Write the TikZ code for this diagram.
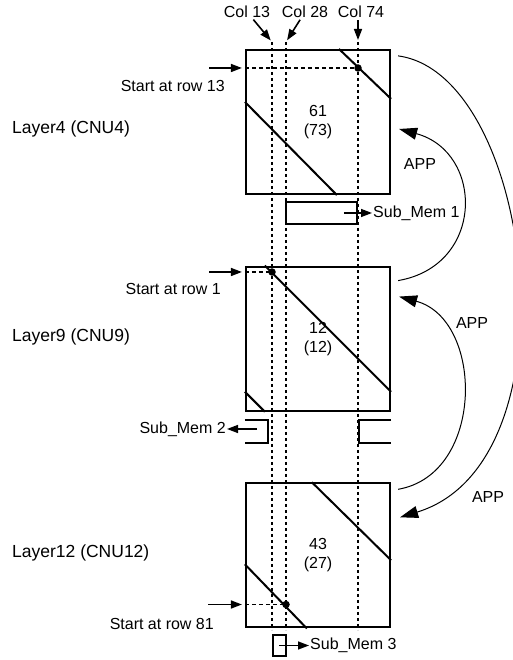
\documentclass[tikz,border=0pt]{standalone}
\usepackage{fontspec}
\setmainfont{Liberation Sans}
\usetikzlibrary{arrows.meta,positioning,calc}

\begin{document}
\begin{tikzpicture}[
  x=1pt, y=1pt,
  node distance=70.5pt and 20pt,
  every node/.style={font=\fontsize{16}{19}\selectfont, inner sep=0pt},
  cnubox/.style={draw, line width=2.2pt, minimum size=144pt, align=center},
  membox/.style={draw, line width=1.8pt},
  colline/.style={line width=1.8pt, dash pattern=on 3.5pt off 2.5pt},
  rowline/.style={line width=1.5pt, dash pattern=on 4pt off 3pt},
  diag/.style={line width=2pt},
  edge/.style={-{Triangle[length=11pt,width=8pt]}, line width=1.6pt},
  app/.style={-{Triangle[length=18pt,width=12pt]}, line width=1pt},
  layer/.style={font=\fontsize{17.5}{20}\selectfont, anchor=west},
  hitdot/.style={circle, fill, minimum size=7.5pt}
]
\useasboundingbox (0,0) rectangle (512,660);

\node[cnubox] (cnu4) at (318,538) {61\\(73)};
\node[cnubox, below=of cnu4] (cnu9) {12\\(12)};
\node[cnubox, below=of cnu9] (cnu12) {43\\(27)};

\draw[diag] ($(cnu4.north west)+(94,0)$) -- ($(cnu4.north east)+(0,-50)$);
\draw[diag] ($(cnu4.north west)+(0,-53)$) -- ($(cnu4.south west)+(92,0)$);
\draw[diag] ($(cnu9.north west)+(20,0)$) -- ($(cnu9.south east)+(0,20)$);
\draw[diag] ($(cnu9.south west)+(0,20)$) -- ($(cnu9.south west)+(20,0)$);
\draw[diag] ($(cnu12.north west)+(67,0)$) -- ($(cnu12.north east)+(0,-78)$);
\draw[diag] ($(cnu12.north west)+(0,-82)$) -- ($(cnu12.south west)+(62,0)$);

\coordinate (c13) at (272,618);
\coordinate (c28) at (286,618);
\coordinate (c74) at (358,618);
\draw[colline] (c13) -- (c13 |- 0,30);
\draw[colline] (c28) -- (c28 |- 0,30);
\draw[colline] (c74) -- (c74 |- 0,30);

\node (col13) at (247,648) {Col 13};
\node (col28) at (305,648) {Col 28};
\node (col74) at (361,648) {Col 74};
\draw[edge, shorten <=2pt, shorten >=2pt] (col13) -- (c13);
\draw[edge, shorten <=2pt, shorten >=2pt] (col28) -- (c28);
\draw[edge, shorten >=2pt] ($(col74.south -| c74)+(0,-2)$) -- (c74);

\node[hitdot] (d4) at (358,592) {};
\node[hitdot] (d9) at (272,388) {};
\node[hitdot] (d12) at (286,55.5) {};
\coordinate (r13) at (209,592);
\coordinate (r1) at (209,388);
\coordinate (r81) at (208,55.5);
\draw[edge, shorten >=3pt] (r13) -- (r13 -| cnu4.west);
\draw[edge, shorten >=3pt] (r1) -- (r1 -| cnu9.west);
\draw[edge, shorten >=3pt] (r81) -- (r81 -| cnu12.west);
\draw[rowline] (r13 -| cnu4.west) -- (d4.center);
\draw[rowline] (r1 -| cnu9.west) -- (d9.center);
\draw[rowline] (r81 -| cnu12.west) -- (d12.center);

\node[anchor=east] (st13) at (225,574) {Start at row 13};
\node[anchor=east] (st1) at (221,371) {Start at row 1};
\node[anchor=east] (st81) at (214,36) {Start at row 81};

\node[layer] (l4) at (12,531) {Layer4 (CNU4)};
\node[layer] (l9) at (12,323) {Layer9 (CNU9)};
\node[layer] (l12) at (12,107) {Layer12 (CNU12)};

\node[membox, minimum width=71pt, minimum height=22pt] (mem1) at (321.5,447) {};
\node[anchor=west] (sm1) at (373,447) {Sub\_Mem 1};
\draw[edge, line width=1.4pt, shorten >=1pt] ([xshift=-14pt]mem1.east) -- (sm1);

\draw[membox] ($(cnu9.south west)+(0,-8)$) -| ++(23,-23) -- ++(-23,0);
\draw[membox] ($(cnu9.south east)+(0,-8)$) -| ++(-32,-23) -- ++(32,0);
\coordinate (m2) at (257,231);
\node[anchor=east] (sm2) at (226,231) {Sub\_Mem 2};
\draw[edge, line width=1.4pt, shorten >=1pt] (m2) -- (sm2);

\node[membox, minimum width=13pt, minimum height=21pt] (mem3) at (279.3,14.5) {};
\node[anchor=west] (sm3) at (310,14.5) {Sub\_Mem 3};
\draw[edge, line width=1.4pt, shorten >=1pt] (mem3.center) -- (sm3);

\draw[app] ($(cnu9.north east)+(7,-15)$) .. controls +(87,15) and +(85,-23) .. ($(cnu4.east)+(8,-7)$);
\draw[app] ($(cnu12.north east)+(7,-7)$) .. controls +(87,15) and +(85,-23) .. ($(cnu9.north east)+(8,-31)$);
\draw[app] ($(cnu4.north east)+(7,-7)$) .. controls +(135,-18) and +(180,55) .. ($(cnu12.north east)+(9,-35)$);
\node (app1) at (420,496) {APP};
\node (app2) at (472,337) {APP};
\node (app3) at (488,163) {APP};
\end{tikzpicture}
\end{document}
